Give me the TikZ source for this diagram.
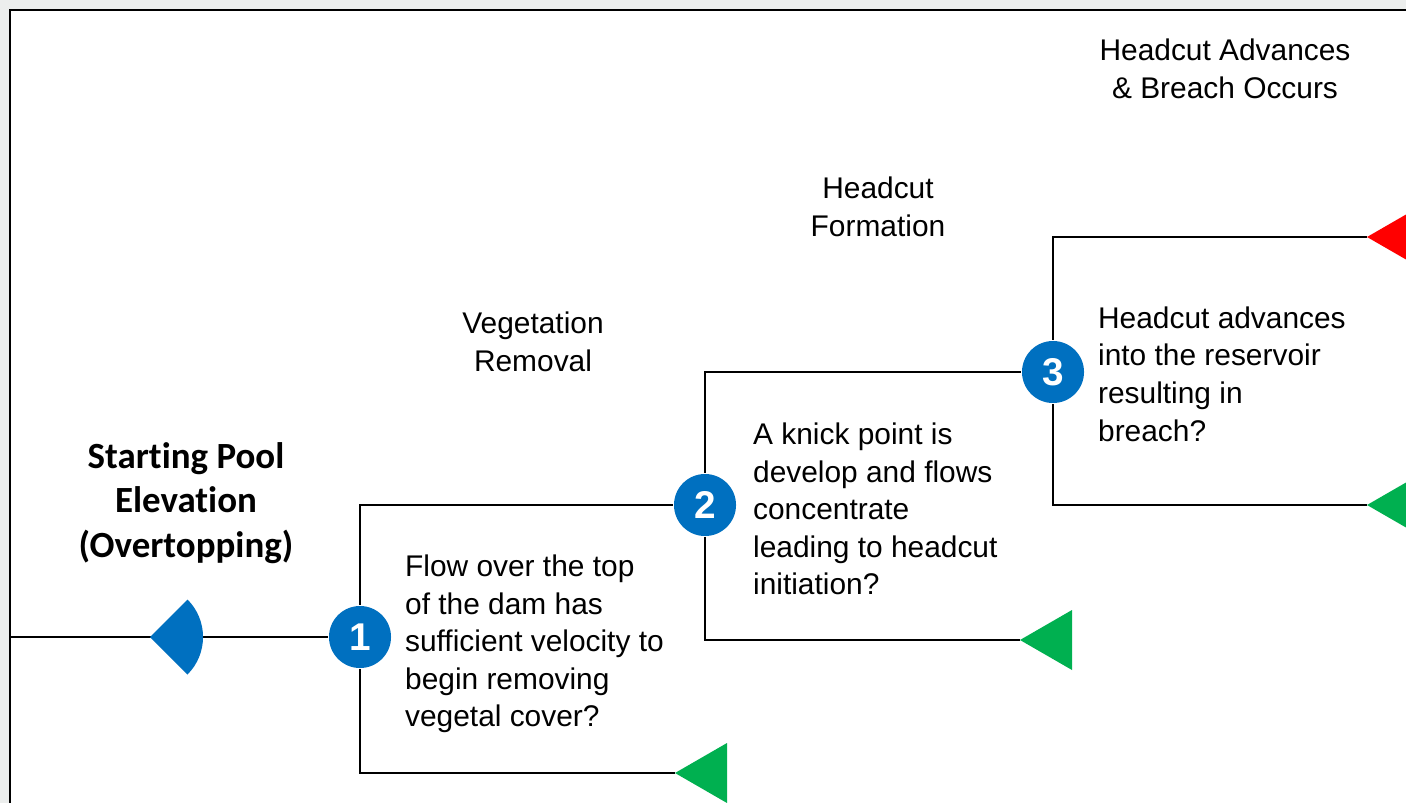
\documentclass[tikz,border=0pt]{standalone}
\usepackage{fontspec}
\setmainfont{Liberation Sans}
\newfontfamily\calibri[Ligatures=CommonOff]{Carlito}

\definecolor{qblue}{HTML}{0070C0}
\definecolor{okgreen}{HTML}{00B050}
\definecolor{failred}{HTML}{FF0000}
\definecolor{slidegray}{RGB}{236,238,237}

\tikzset{
    qnode/.style={circle, fill=qblue, text=white, minimum size=0.62cm, inner sep=0pt,
        font=\fontsize{11}{13}\selectfont\bfseries},
    qtext/.style={anchor=west, align=left, inner sep=0pt,
        font=\fontsize{8.5}{10.7}\selectfont},
    stagetext/.style={align=center, inner sep=0pt,
        font=\fontsize{8.5}{10.7}\selectfont},
    pooltext/.style={align=center, inner sep=0pt,
        font=\calibri\bfseries\fontsize{10.5}{12.6}\selectfont}
}

\begin{document}
\begin{tikzpicture}[x=0.01cm, y=-0.01cm, line width=0.65pt]

        \useasboundingbox (0,0) rectangle (1406,803);
        \clip (0,0) rectangle (1406,803);
        \fill[slidegray] (0,0) rectangle (1406,803);
        \draw[fill=white, line width=0.8pt] (10,10) rectangle (1440,840);

                \foreach \n/\x/\y in {1/360/637, 2/705/505, 3/1053/372} {
                    \node[qnode] (q\n) at (\x,\y) {\n};
                }

                \coordinate (start) at (10,637);
                \coordinate (pool) at (150,637);
                \coordinate (no1) at (675,773);
                \coordinate (no2) at (1020,640);
                \coordinate (no3) at (1367,505);
                \coordinate (yes3) at (1367,237);

                \draw (start) -- (q1);
                \draw (q1) |- (q2);
                \draw (q1) |- (no1);
                \draw (q2) |- (q3);
                \draw (q2) |- (no2);
                \draw (q3) |- (yes3);
                \draw (q3) |- (no3);

                \fill[qblue] (pool) -- ++(45:0.53cm) arc[start angle=45, end angle=-45, radius=0.53cm] -- cycle;

                \foreach \c/\col in {no1/okgreen, no2/okgreen, no3/okgreen, yes3/failred} {
                    \fill[\col] (\c) -- ++(52,-30) -- ++(0,60) -- cycle;
                }

                \node[pooltext] (title) at (186,503) {Starting Pool\\Elevation\\(Overtopping)};
                \node[stagetext] (veg) at (533,342) {Vegetation\\Removal};
                \node[stagetext] (form) at (878,207) {Headcut\\Formation};
                \node[stagetext] (breach) at (1225,69) {Headcut Advances\\\& Breach Occurs};

                \node[qtext] (t1) at (404,644) {Flow over the top\\of the dam has\\sufficient velocity to\\begin removing\\vegetal cover?};
                \node[qtext] (t2) at (752,509) {A knick point is\\develop and flows\\concentrate\\leading to headcut\\initiation?};
                \node[qtext] (t3) at (1097,374) {Headcut advances\\into the reservoir\\resulting in\\breach?};

\end{tikzpicture}
\end{document}
